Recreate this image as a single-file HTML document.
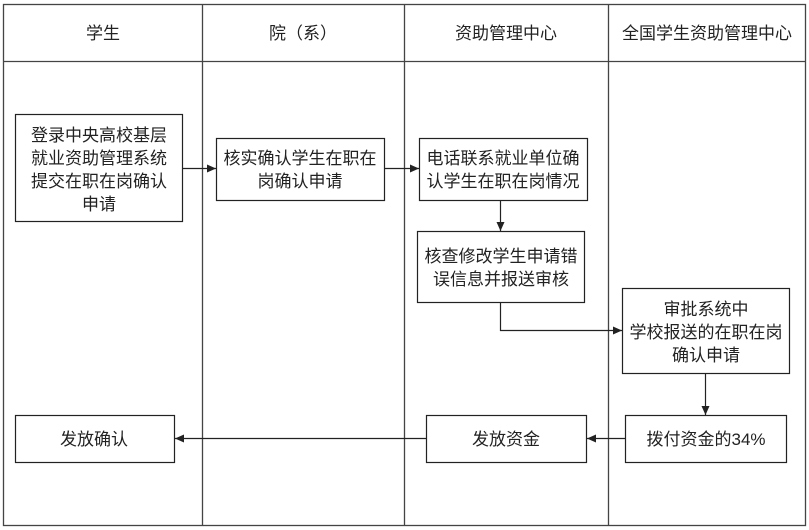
<!DOCTYPE html>
<html><head><meta charset="utf-8"><style>
html,body{margin:0;padding:0;background:#fff;}
svg{display:block;}
text{font-family:"Liberation Sans","Noto Sans CJK SC",sans-serif;font-size:17px;fill:#222;text-anchor:middle;}
</style></head><body>
<svg width="809" height="530" viewBox="0 0 809 530" xmlns="http://www.w3.org/2000/svg">
<defs><marker id="a" markerWidth="10" markerHeight="10" refX="9" refY="5" orient="auto" markerUnits="userSpaceOnUse"><path d="M0,1 L9,5 L0,9 Z" fill="#222"/></marker></defs>
<g stroke="#444" stroke-width="1.3" fill="none">
<rect x="3.5" y="4.5" width="802" height="521"/>
<line x1="3.5" y1="61.5" x2="805.5" y2="61.5"/>
<line x1="202.5" y1="4.5" x2="202.5" y2="525.5"/>
<line x1="404.5" y1="4.5" x2="404.5" y2="525.5"/>
<line x1="608.5" y1="4.5" x2="608.5" y2="525.5"/>
</g>
<g stroke="#222" stroke-width="1.2" fill="#fff">
<rect x="15.5" y="114.5" width="167" height="107"/>
<rect x="216.5" y="138.5" width="168" height="62"/>
<rect x="419.5" y="138.5" width="168" height="62"/>
<rect x="417.5" y="231.5" width="167" height="71"/>
<rect x="622.5" y="288.5" width="167" height="85"/>
<rect x="625.5" y="415.5" width="161" height="47"/>
<rect x="426.5" y="415.5" width="160" height="47"/>
<rect x="15.5" y="415.5" width="159" height="47"/>
</g>
<g stroke="#222" stroke-width="1.2" fill="none" marker-end="url(#a)">
<line x1="182.5" y1="168.5" x2="216" y2="168.5"/>
<line x1="384.5" y1="168.5" x2="419" y2="168.5"/>
<line x1="500.5" y1="200.5" x2="500.5" y2="231"/>
<polyline points="500.5,302.5 500.5,330.5 622,330.5"/>
<line x1="705.5" y1="373.5" x2="705.5" y2="415"/>
<line x1="625.5" y1="438.5" x2="587" y2="438.5"/>
<line x1="426.5" y1="438.5" x2="175" y2="438.5"/>
</g>
<text x="103" y="39">学生</text>
<text x="303" y="39">院（系）</text>
<text x="506" y="39">资助管理中心</text>
<text x="707" y="39">全国学生资助管理中心</text>
<text x="99" y="141">登录中央高校基层</text>
<text x="99" y="164">就业资助管理系统</text>
<text x="99" y="187">提交在职在岗确认</text>
<text x="99" y="210">申请</text>
<text x="300" y="164">核实确认学生在职在</text>
<text x="300" y="187">岗确认申请</text>
<text x="503" y="164">电话联系就业单位确</text>
<text x="503" y="187">认学生在职在岗情况</text>
<text x="501" y="262">核查修改学生申请错</text>
<text x="501" y="285">误信息并报送审核</text>
<text x="706" y="315">审批系统中</text>
<text x="706" y="338">学校报送的在职在岗</text>
<text x="706" y="361">确认申请</text>
<text x="706" y="445">拨付资金的34%</text>
<text x="506" y="445">发放资金</text>
<text x="60" y="445" style="text-anchor:start">发放确认</text>
</svg>
</body></html>
